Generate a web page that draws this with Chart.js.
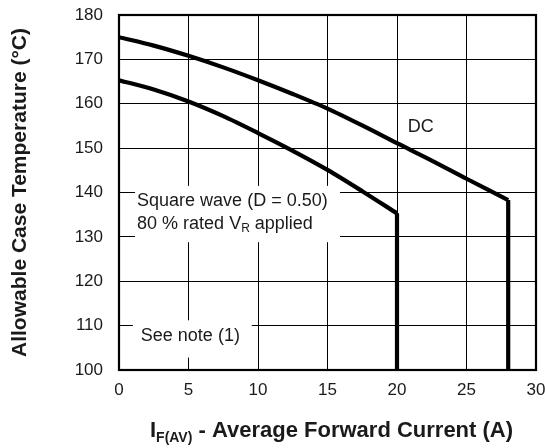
<!DOCTYPE html>
<html>
<head>
<meta charset="utf-8">
<script src="https://cdn.jsdelivr.net/npm/chart.js@4/dist/chart.umd.min.js"></script>
<style>
  html, body { margin: 0; padding: 0; background: #fff; }
  #wrap { width: 545px; height: 448px; position: relative; }
</style>
</head>
<body>
<div id="wrap"><canvas id="c" width="545" height="448"></canvas></div>
<script>
// Maximum allowable case temperature vs. average forward current
const dcCurrent = [0, 2.5, 5, 7.5, 10, 12.5, 15, 17.5, 20, 22.5, 25, 28];
const dcTemp    = [175, 173.1, 170.8, 168.2, 165.3, 162.2, 158.9, 155.1, 151.1, 147.2, 143.1, 138.3];

const sqCurrent = [0, 2.5, 5, 7.5, 10, 12.5, 15, 17.5, 20];
const sqTemp    = [165.3, 163.2, 160.5, 157.2, 153.4, 149.4, 145.1, 140.3, 135.3];

const xTickValues = [0, 5, 10, 15, 20, 25, 30];
const yTickValues = [100, 110, 120, 130, 140, 150, 160, 170, 180];

const xMin = 0, xMax = 30, yMin = 100, yMax = 180;

const FONT = '"Liberation Sans", Arial, Helvetica, sans-serif';
const INK = '#1a1a1a';

function toPoints(xs, ys) { return xs.map((x, i) => ({ x: x, y: ys[i] })); }
// vertical cut-off from the last point of a curve down to the axis floor
function dropLine(xs, ys) {
  const n = xs.length - 1;
  return [{ x: xs[n], y: ys[n] }, { x: xs[n], y: yMin }];
}

const curveStyle = {
  borderColor: '#000', borderWidth: 4.2, pointRadius: 0, showLine: true,
  fill: false, borderCapStyle: 'butt', borderJoinStyle: 'miter'
};

const annotations = {
  id: 'annotations',
  beforeDatasetsDraw(chart) {
    const ctx = chart.ctx, xs = chart.scales.x, ys = chart.scales.y;
    ctx.save();
    ctx.fillStyle = '#fff';
    // label backgrounds knock out the grid
    const sqBox = [1.15, 141.5, 15.9, 128.8];
    ctx.fillRect(xs.getPixelForValue(sqBox[0]), ys.getPixelForValue(sqBox[1]),
      xs.getPixelForValue(sqBox[2]) - xs.getPixelForValue(sqBox[0]),
      ys.getPixelForValue(sqBox[3]) - ys.getPixelForValue(sqBox[1]));
    const noteBox = [1.0, 111.2, 9.55, 102.8];
    ctx.fillRect(xs.getPixelForValue(noteBox[0]), ys.getPixelForValue(noteBox[1]),
      xs.getPixelForValue(noteBox[2]) - xs.getPixelForValue(noteBox[0]),
      ys.getPixelForValue(noteBox[3]) - ys.getPixelForValue(noteBox[1]));

    ctx.fillStyle = INK;
    ctx.textBaseline = 'middle';
    ctx.textAlign = 'left';
    ctx.font = '18px ' + FONT;
    const lx = xs.getPixelForValue(1.3);
    ctx.fillText('Square wave (D = 0.50)', lx, ys.getPixelForValue(138.0));
    const y2 = ys.getPixelForValue(133.0);
    let t = '80 % rated V';
    ctx.fillText(t, lx, y2);
    let w = ctx.measureText(t).width;
    ctx.font = '12px ' + FONT;
    ctx.fillText('R', lx + w, y2 + 5);
    w += ctx.measureText('R').width;
    ctx.font = '18px ' + FONT;
    ctx.fillText(' applied', lx + w, y2);

    ctx.fillText('See note (1)', xs.getPixelForValue(1.57), ys.getPixelForValue(107.6));

    ctx.textAlign = 'center';
    ctx.fillText('DC', xs.getPixelForValue(21.7), ys.getPixelForValue(154.7));
    ctx.restore();
  },
  afterDatasetsDraw(chart) {
    const a = chart.chartArea, ctx = chart.ctx;
    ctx.save();
    ctx.strokeStyle = '#000';
    ctx.lineWidth = 2.2;
    ctx.strokeRect(a.left, a.top, a.right - a.left, a.bottom - a.top);
    ctx.restore();
  },
  afterDraw(chart) {
    const a = chart.chartArea, ctx = chart.ctx;
    ctx.save();
    ctx.fillStyle = INK;
    ctx.textBaseline = 'middle';
    // y-axis title
    ctx.font = 'bold 21px ' + FONT;
    ctx.translate(20, (a.top + a.bottom) / 2);
    ctx.rotate(-Math.PI / 2);
    ctx.textAlign = 'center';
    ctx.fillText('Allowable Case Temperature (°C)', 0, 0);
    ctx.restore();

    // x-axis title with subscript
    ctx.save();
    ctx.fillStyle = INK;
    ctx.textBaseline = 'middle';
    ctx.textAlign = 'left';
    const parts = [
      { t: 'I', f: 'bold 22px ' + FONT, dy: 0 },
      { t: 'F(AV)', f: 'bold 14px ' + FONT, dy: 7 },
      { t: ' - Average Forward Current (A)', f: 'bold 22px ' + FONT, dy: 0 }
    ];
    let total = 0;
    parts.forEach(p => { ctx.font = p.f; p.w = ctx.measureText(p.t).width; total += p.w; });
    let x = (a.left + a.right) / 2 + 4 - total / 2;
    const y = 431;
    parts.forEach(p => { ctx.font = p.f; ctx.fillText(p.t, x, y + p.dy); x += p.w; });
    ctx.restore();
  }
};

new Chart(document.getElementById('c'), {
  type: 'scatter',
  data: {
    datasets: [
      Object.assign({ label: 'DC', data: toPoints(dcCurrent, dcTemp), tension: 0.3 }, curveStyle),
      Object.assign({ label: 'DC limit', data: dropLine(dcCurrent, dcTemp), tension: 0 }, curveStyle),
      Object.assign({ label: 'Square wave', data: toPoints(sqCurrent, sqTemp), tension: 0.3 }, curveStyle),
      Object.assign({ label: 'Square wave limit', data: dropLine(sqCurrent, sqTemp), tension: 0 }, curveStyle)
    ]
  },
  options: {
    responsive: false,
    animation: false,
    layout: { padding: { top: 15, right: 9, left: 0, bottom: 0 } },
    plugins: { legend: { display: false }, tooltip: { enabled: false } },
    scales: {
      x: {
        type: 'linear', min: xMin, max: xMax,
        afterBuildTicks: s => { s.ticks = xTickValues.map(v => ({ value: v })); },
        afterFit: s => { s.height = 78; s.paddingLeft = 0; s.paddingRight = 0; },
        grid: { color: '#000', lineWidth: 1, drawTicks: false },
        border: { display: false },
        ticks: { color: INK, font: { family: FONT, size: 17 }, padding: 10, maxRotation: 0 }
      },
      y: {
        type: 'linear', min: yMin, max: yMax,
        afterBuildTicks: s => { s.ticks = yTickValues.map(v => ({ value: v })); },
        afterFit: s => { s.width = 119; s.paddingTop = 0; s.paddingBottom = 0; },
        grid: { color: '#000', lineWidth: 1, drawTicks: false },
        border: { display: false },
        ticks: { color: INK, font: { family: FONT, size: 17 }, padding: 16 }
      }
    }
  },
  plugins: [annotations]
});
</script>
</body>
</html>
